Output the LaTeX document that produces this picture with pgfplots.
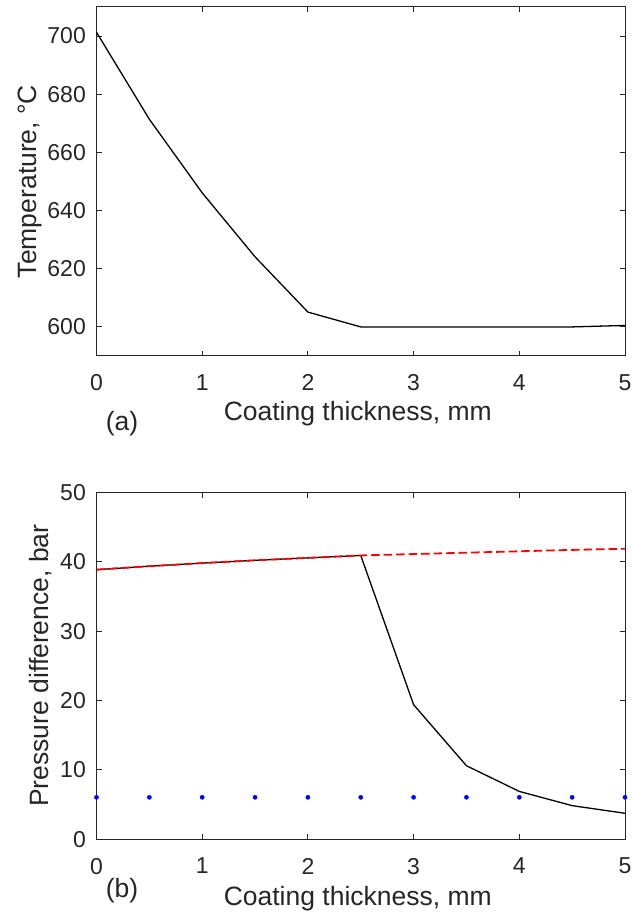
\documentclass[border=0pt]{standalone}
\usepackage{fontspec}
\setmainfont{Liberation Sans}
\usepackage{pgfplots}
\pgfplotsset{compat=1.18}
\definecolor{axgray}{RGB}{38,38,38}
\begin{document}
\begin{tikzpicture}
\path[use as bounding box] (-96.5bp,-75.7bp) rectangle (536.5bp,839.3bp);
\pgfplotsset{
  every axis/.append style={
    scale only axis, width=528.5bp,
    xmin=0, xmax=5, xtick={0,1,2,3,4,5},
    axis line style={axgray, line width=1bp},
    every tick/.style={axgray, line width=1bp},
    major tick length=5.3bp,
    tick align=inside,
    ticklabel style={font=\fontsize{23bp}{27bp}\selectfont, text=axgray},
    /pgf/number format/assume math mode=true,
    /pgf/number format/1000 sep={},
    xticklabel style={inner sep=0pt, anchor=north, yshift=-18.5bp},
    yticklabel style={inner sep=0pt, anchor=east, xshift=-10.5bp},
    scaled ticks=false, clip=false,
  }
}
\begin{axis}[at={(0,483.3bp)}, anchor=south west, height=349bp,
  ymin=590, ymax=710, ytick={600,620,...,700}]
\addplot[black, line width=1.3bp] coordinates {(0,701.3)(0.5,671.4)(1,646.1)(1.5,624.1)(2,605.1)(2.5,600)(3,600)(3.5,600)(4,600)(4.5,600)(5,600.5)};
\end{axis}
\begin{axis}[at={(0,0)}, anchor=south west, height=347bp,
  ymin=0, ymax=50, ytick={0,10,...,50}]
\addplot[black, line width=1.3bp] coordinates {(0,38.85)(0.5,39.35)(1,39.8)(1.5,40.2)(2,40.55)(2.5,40.9)(3,19.4)(3.5,10.6)(4,6.9)(4.5,4.85)(5,3.75)};
\addplot[red, line width=1.8bp, dash pattern=on 8.5bp off 4bp] coordinates {(0,38.85)(0.5,39.35)(1,39.8)(1.5,40.2)(2,40.55)(2.5,40.9)(3,41.1)(3.5,41.3)(4,41.5)(4.5,41.7)(5,41.87)};
\addplot[only marks, blue, mark=*, mark size=2.1bp] coordinates {(0,6.05)(0.5,6.05)(1,6.05)(1.5,6.05)(2,6.05)(2.5,6.05)(3,6.05)(3.5,6.05)(4,6.05)(4.5,6.05)(5,6.05)};
\end{axis}
\begin{scope}[every node/.style={inner sep=0pt, text=axgray, font=\fontsize{26.5bp}{30bp}\selectfont}]
\node[rotate=90, anchor=base] at (-59.5bp,657.8bp) {Temperature, °C};
\node[rotate=90, anchor=base] at (-47.5bp,173.6bp) {Pressure difference, bar};
\node[anchor=base] at (261.3bp,418.3bp) {Coating thickness, mm};
\node[anchor=base] at (261.3bp,-66.4bp) {Coating thickness, mm};
\node[anchor=base] at (25.5bp,408.3bp) {(a)};
\node[anchor=base] at (25.5bp,-57.7bp) {(b)};
\end{scope}
\end{tikzpicture}
\end{document}
